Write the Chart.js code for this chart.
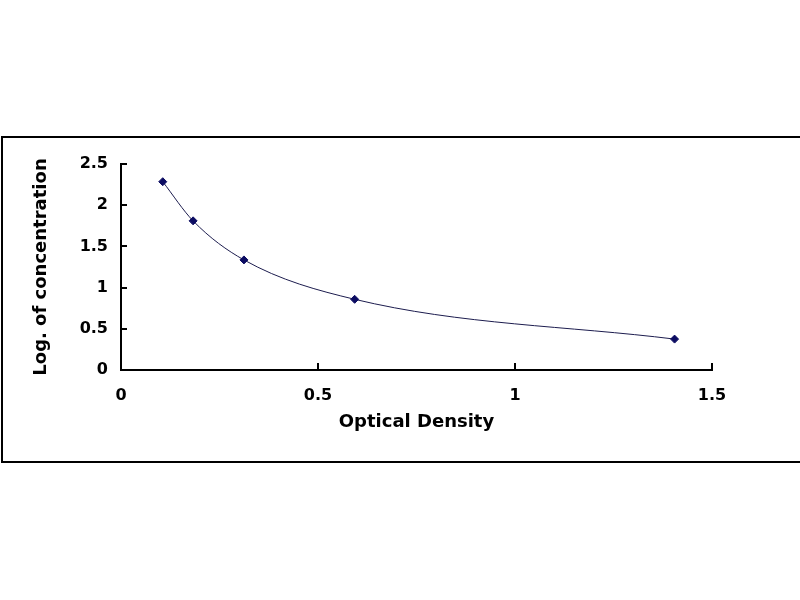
<!DOCTYPE html>
<html>
<head>
<meta charset="utf-8">
<script src="https://cdn.jsdelivr.net/npm/chart.js@4/dist/chart.umd.min.js"></script>
<style>
html, body { margin: 0; padding: 0; background: #fff; }
#frame { position: absolute; left: 1px; top: 136px; width: 810px; height: 323px; border: 2px solid #000; border-right: none; }
#wrap { position: absolute; left: 0; top: 0; width: 800px; height: 600px; }
</style>
</head>
<body>
<div id="frame"></div>
<div id="wrap"><canvas id="chart" width="800" height="600"></canvas></div>
<script>
// standard curve readings
const odValues = [0.106, 0.183, 0.312, 0.593, 1.405];
const logConc = [2.285, 1.81, 1.336, 0.858, 0.375];
const xTicks = [0, 0.5, 1, 1.5];
const yTicks = [0, 0.5, 1, 1.5, 2, 2.5];

const points = odValues.map((x, i) => ({x: x, y: logConc[i]}));

// small inward tick marks like the excel chart
const innerTicks = {
id: 'innerTicks',
afterDraw(chart) {
const ctx = chart.ctx;
const xs = chart.scales.x, ys = chart.scales.y;
ctx.save();
ctx.strokeStyle = '#000';
ctx.lineWidth = 2;
xTicks.forEach(v => {
if (v === 0) return;
const px = Math.round(xs.getPixelForValue(v));
ctx.beginPath();
ctx.moveTo(px, ys.bottom);
ctx.lineTo(px, ys.bottom - 7);
ctx.stroke();
});
yTicks.forEach(v => {
if (v === 0) return;
const py = Math.round(ys.getPixelForValue(v));
ctx.beginPath();
ctx.moveTo(xs.left, py);
ctx.lineTo(xs.left + 6, py);
ctx.stroke();
});
ctx.restore();
}
};

const tickFont = {family: 'DejaVu Sans', weight: 'bold', size: 16};
const titleFont = {family: 'DejaVu Sans', weight: 'bold', size: 18};

new Chart(document.getElementById('chart').getContext('2d'), {
type: 'scatter',
data: {
datasets: [{
data: points,
showLine: true,
cubicInterpolationMode: 'monotone',
borderColor: '#1c1c4e',
borderWidth: 1,
pointStyle: 'rectRot',
pointRadius: 4,
pointBackgroundColor: '#0c0c62',
pointBorderColor: '#0c0c62',
pointBorderWidth: 1
}]
},
options: {
responsive: false,
animation: false,
layout: {padding: {left: 0, top: 164, right: 88, bottom: 160}},
plugins: {legend: {display: false}, tooltip: {enabled: false}},
scales: {
x: {
type: 'linear',
min: 0,
max: 1.5,
afterBuildTicks: s => { s.ticks = xTicks.map(v => ({value: v})); },
afterFit: s => { s.height = 70; },
grid: {display: false, drawTicks: false},
border: {display: true, color: '#000', width: 2},
ticks: {color: '#000', font: tickFont, padding: 16, maxRotation: 0, callback: v => String(v)},
title: {display: true, text: 'Optical Density', color: '#000', font: titleFont, padding: {top: 0, bottom: 7}}
},
y: {
type: 'linear',
min: 0,
max: 2.5,
afterBuildTicks: s => { s.ticks = yTicks.map(v => ({value: v})); },
afterFit: s => { s.width = 121; },
grid: {display: false, drawTicks: false},
border: {display: true, color: '#000', width: 2},
ticks: {color: '#000', font: tickFont, padding: 13, callback: v => String(v)},
title: {display: true, text: 'Log. of concentration', color: '#000', font: titleFont, padding: {top: 31, bottom: 0}}
}
}
},
plugins: [innerTicks]
});
</script>
</body>
</html>
